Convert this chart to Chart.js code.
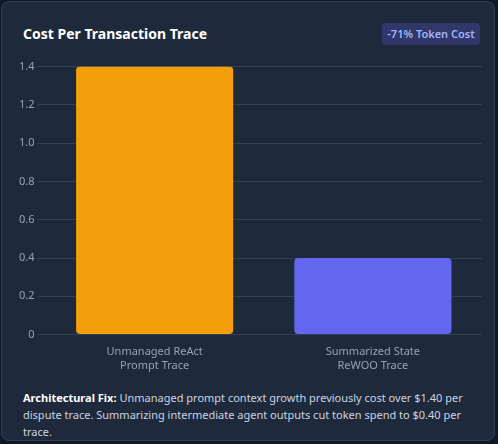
<!DOCTYPE html>
<html>
<head>
<meta charset="utf-8">
<script src="https://cdn.jsdelivr.net/npm/chart.js@4"></script>
<style>
	html, body { margin: 0; padding: 0; background: #0f172a; font-family: 'Segoe UI', 'Noto Sans', sans-serif; }
	.card { position: absolute; left: 1px; top: 1px; width: 494px; height: 440px; background: #1e293b; border: 1px solid #334155; border-radius: 8px; box-sizing: border-box; }
	.title { position: absolute; left: 21px; top: 22px; color: #fff; font-size: 14px; font-weight: bold; }
	.badge { position: absolute; left: 380px; top: 21px; width: 98px; height: 22px; line-height: 22px; text-align: center; background: #312e81; background: rgba(99,102,241,0.25); color: #a5b4fc; font-size: 11px; font-weight: 600; border-radius: 4px; }
	.chart { position: absolute; left: 14px; top: 55px; width: 466px; height: 318px; }
	.note { position: absolute; left: 21px; top: 387px; width: 460px; color: #cbd5e1; font-size: 11px; line-height: 17px; }
	.note b { color: #fff; }
</style>
</head>
<body>
<div class="card">
	<div class="title">Cost Per Transaction Trace</div>
	<div class="badge">-71% Token Cost</div>
	<div class="chart"><canvas id="costChart"></canvas></div>
	<div class="note"><b>Architectural Fix:</b> Unmanaged prompt context growth previously cost over $1.40 per dispute trace. Summarizing intermediate agent outputs cut token spend to $0.40 per trace.</div>
</div>
<script>
	var categories = [ [ 'Unmanaged ReAct', 'Prompt Trace' ], [ 'Summarized State', 'ReWOO Trace' ] ];
	var costValues = [ 1.40, 0.40 ];
	var barColors = [ '#f59e0b', '#6366f1' ];

	Chart.defaults.font.family = "'Segoe UI', 'Noto Sans', sans-serif";
	Chart.defaults.color = '#94a3b8';

	new Chart( document.getElementById( 'costChart' ).getContext( '2d' ), {
		type: 'bar',
		data: {
			labels: categories,
			datasets: [ {
				data: costValues,
				backgroundColor: barColors,
				borderRadius: 4,
				borderSkipped: false,
				categoryPercentage: 0.8,
				barPercentage: 0.9
			} ]
		},
		options: {
			responsive: true,
			maintainAspectRatio: false,
			animation: false,
			plugins: { legend: { display: false }, tooltip: { enabled: false } },
			scales: {
				x: {
					grid: { display: false },
					border: { color: '#334155' },
					ticks: { font: { size: 11 }, color: '#94a3b8' }
				},
				y: {
					beginAtZero: true,
					max: 1.4,
					grid: { color: '#334155' },
					border: { display: false },
					ticks: { stepSize: 0.2, font: { size: 11 }, color: '#94a3b8' }
				}
			}
		}
	} );
</script>
</body>
</html>
